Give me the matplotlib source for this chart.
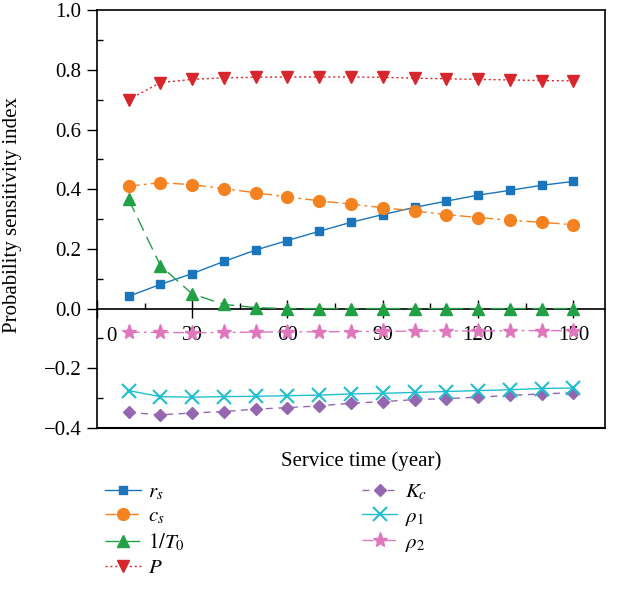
import numpy as np
import matplotlib.pyplot as plt
from matplotlib.ticker import MultipleLocator

plt.rcParams['font.family'] = ['Liberation Serif', 'DejaVu Serif']
plt.rcParams['mathtext.fontset'] = 'stix'

years = [10, 20, 30, 40, 50, 60, 70, 80, 90, 100, 110, 120, 130, 140, 150]

r_s = [0.041, 0.081, 0.117, 0.158, 0.196, 0.228, 0.259, 0.289, 0.315, 0.339,
       0.360, 0.380, 0.396, 0.413, 0.426]
c_s = [0.410, 0.422, 0.415, 0.402, 0.388, 0.374, 0.361, 0.350, 0.338, 0.327,
       0.315, 0.305, 0.296, 0.289, 0.281]
inv_T0 = [0.366, 0.144, 0.049, 0.014, 0.003, 0.0, 0.0, 0.0, 0.0, 0.0,
          0.0, 0.0, 0.0, 0.0, 0.0]
P = [0.700, 0.757, 0.768, 0.773, 0.775, 0.776, 0.776, 0.776, 0.775, 0.772,
     0.770, 0.768, 0.766, 0.764, 0.763]
K_c = [-0.348, -0.356, -0.350, -0.345, -0.337, -0.332, -0.326, -0.317, -0.312,
       -0.305, -0.302, -0.297, -0.291, -0.286, -0.282]
rho1 = [-0.275, -0.295, -0.297, -0.295, -0.294, -0.292, -0.290, -0.286, -0.284,
        -0.281, -0.278, -0.275, -0.272, -0.268, -0.266]
rho2 = [-0.079, -0.080, -0.081, -0.080, -0.079, -0.078, -0.078, -0.077, -0.076,
        -0.076, -0.075, -0.075, -0.074, -0.074, -0.074]

xticks = [0, 30, 60, 90, 120, 150]
yticks = [-0.4, -0.2, 0.0, 0.2, 0.4, 0.6, 0.8, 1.0]
ymin, ymax = -0.4, 1.0

fs = 15

fig = plt.figure(figsize=(6.29, 5.96), dpi=100)
ax = fig.add_axes([0.154, 0.282, 0.808, 0.701])

ms = 7
ax.plot(years, r_s, color='#1a75bc', ls='-', lw=1, marker='s', ms=ms - 1, label=r'$r_s$')
ax.plot(years, c_s, color='#f58220', ls=(0, (8, 3, 2, 3)), lw=1, marker='o', ms=ms + 1.5, label=r'$c_s$')
ax.plot(years, inv_T0, color='#22a045', ls=(0, (10, 5)), lw=1, marker='^', ms=ms + 1, label=r'$1/T_0$')
ax.plot(years, P, color='#d7262c', ls=(0, (1.5, 2)), lw=1, marker='v', ms=ms + 1, label=r'$P$')
ax.plot(years, K_c, color='#9467b0', ls=(0, (5, 4)), lw=1, marker='D', ms=ms - 1, label=r'$K_c$')
ax.plot(years, rho1, color='#1fbfd0', ls='-', lw=1, marker='x', ms=ms + 3, mew=1.5, label=r'$\rho_1$')
ax.plot(years, rho2, color='#e077bd', ls=(0, (8, 3, 2, 3)), lw=1, marker='*', ms=ms + 4, label=r'$\rho_2$')

ax.set_xlim(0, 160)
ax.set_ylim(ymin, ymax)
for s in ax.spines.values():
    s.set_linewidth(1.2)
ax.spines['bottom'].set_linewidth(1.5)

# main box keeps its bottom edge; the x axis itself sits at y = 0
ax.tick_params(axis='x', which='both', bottom=False, labelbottom=False)
sec = ax.secondary_xaxis((0 - ymin) / (ymax - ymin))
sec.spines['bottom'].set_linewidth(1.2)
sec.set_xticks(xticks)
sec.set_xticklabels([''] + [str(t) for t in xticks[1:]])
sec.xaxis.set_minor_locator(MultipleLocator(15))
sec.tick_params(which='major', direction='inout', length=13, width=1, labelsize=fs, pad=6)
sec.tick_params(which='minor', direction='in', length=4, width=1)
ax.text(4.7, -0.063, '0', ha='center', va='top', fontsize=fs)

ax.set_yticks(yticks)
ax.set_yticklabels(['\u22120.4', '\u22120.2', '0.0', '0.2', '0.4', '0.6', '0.8', '1.0'])
ax.yaxis.set_minor_locator(MultipleLocator(0.1))
ax.tick_params(axis='y', which='major', direction='out', length=7, width=1, labelsize=fs, pad=4)
ax.tick_params(axis='y', which='minor', direction='in', length=4, width=1)

ax.set_xlabel('Service time (year)', fontsize=fs)
ax.set_ylabel('Probability sensitivity index', fontsize=fs)
ax.xaxis.set_label_coords(0.52, -0.055)
ax.yaxis.set_label_coords(-0.148, 0.51)

leg = ax.legend(loc='upper left', bbox_to_anchor=(0.0, -0.11), ncol=2, frameon=False,
                fontsize=fs, handlelength=1.7, handletextpad=0.35, columnspacing=8.5,
                labelspacing=0.25, borderaxespad=0)

fig.savefig('out.png', dpi=100)
